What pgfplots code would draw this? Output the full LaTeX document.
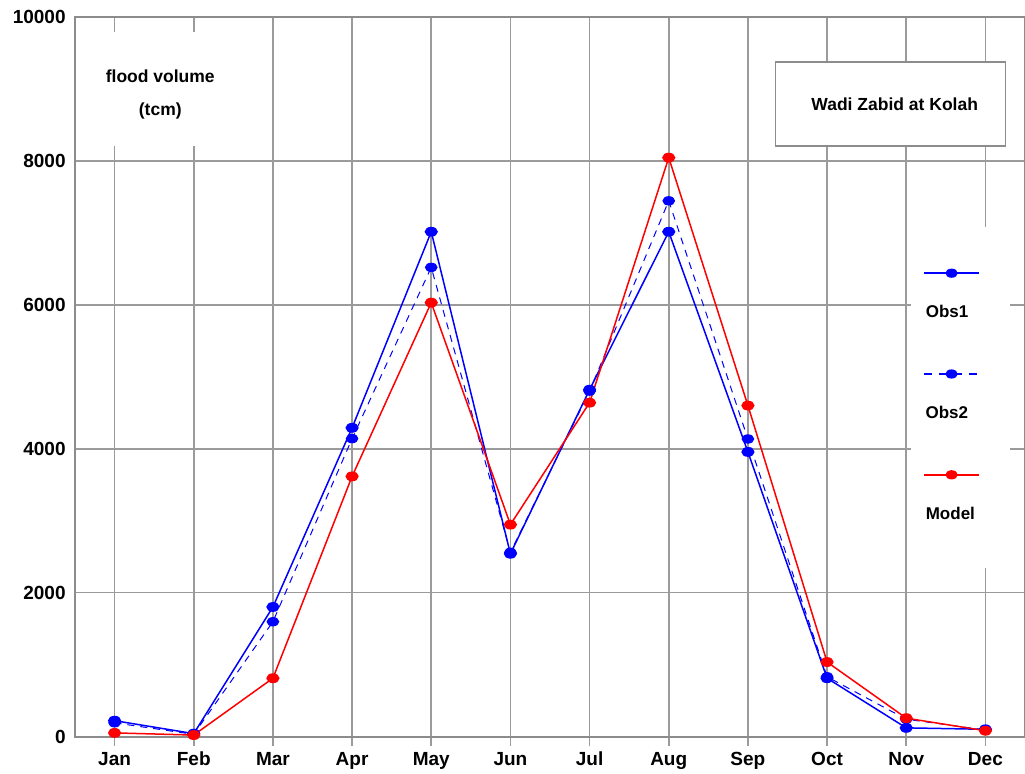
\documentclass[border=0pt]{standalone}
\usepackage{pgfplots}
\pgfplotsset{compat=1.18}
\usepackage{fontspec}
\setmainfont{Liberation Sans}
\definecolor{gridgray}{RGB}{155,155,155}
\definecolor{axgray}{RGB}{140,140,140}
\pgfplotsset{
  leg/.style n args={3}{legend image code/.code={
    \path[draw=none,fill=none] (0pt,-25pt) rectangle (27.5pt,25.4pt);
    \path[draw=#3,#2] (0pt,0.25pt) -- (27.5pt,0.25pt);
    \path[fill=#3,draw=none] (13.75pt,0.25pt) ellipse [x radius=3.1pt, y radius=2.3pt];
    \node[draw=none,fill=none,anchor=base west,inner sep=0pt,text=black,font=\bfseries\fontsize{8.5}{10}\selectfont] at (0.5pt,-22pt) {#1};
  }}
}
\begin{document}
\begin{tikzpicture}
\begin{axis}[
  scale only axis, width=475pt, height=359.75pt,
  xmin=-0.5, xmax=11.5, ymin=0, ymax=10000,
  xtick={0,...,11},
  xticklabels={Jan,Feb,Mar,Apr,May,Jun,Jul,Aug,Sep,Oct,Nov,Dec},
  ytick={0,2000,4000,6000,8000,10000},
  grid=major, major grid style={gridgray,line width=0.85pt},
  axis line style={axgray,line width=1pt},
  tick pos=left,
  tick align=outside, major tick length=4.5pt,
  xtick style={gridgray,line width=0.85pt},
  ytick style={draw=none},
  ticklabel style={font=\bfseries\fontsize{9.5}{11}\selectfont},
  yticklabel style={inner sep=0pt},
  xticklabel style={inner sep=0pt, text height=7pt, yshift=-2.8pt},
  /pgf/number format/assume math mode=true,
  /pgf/number format/1000 sep={},
  scaled y ticks=false,
  clip=false,
  mark size=2.9pt,
  legend style={at={(0.8923,0.7144)}, anchor=north west, draw=none, fill=none,
    inner sep=0pt, row sep=0pt, nodes={inner sep=0pt}},
]
\fill[white] (axis cs:-0.304,8207) rectangle (axis cs:1.47,9791);
\node[font=\bfseries\fontsize{8.75}{16.5}\selectfont, align=center] at (axis cs:0.577,8923) {flood volume\\(tcm)};
\draw[axgray, line width=0.6pt, fill=white] (axis cs:8.350,8207) rectangle (axis cs:11.252,9374);
\node[font=\bfseries\fontsize{8.75}{11}\selectfont] at (axis cs:9.854,8790) {Wadi Zabid at Kolah};
\fill[white] (axis cs:10.061,2342) rectangle (axis cs:11.315,7081);

\addplot[blue, line width=0.75pt, mark=*, mark options={solid, yscale=0.72},
  leg={Obs1}{line width=1pt}{blue}]
  coordinates {(0,220) (1,40) (2,1800) (3,4290) (4,7015) (5,2540) (6,4820) (7,7015) (8,3955) (9,810) (10,120) (11,100)};
\addlegendentry{\mbox{}}
\addplot[blue, line width=0.5pt, dash pattern=on 3.5pt off 3pt, mark=*, mark options={solid, yscale=0.72},
  leg={Obs2}{line width=0.6pt, dash pattern=on 4pt off 3.5pt}{blue}]
  coordinates {(0,190) (1,30) (2,1595) (3,4140) (4,6520) (5,2560) (6,4800) (7,7445) (8,4135) (9,830) (10,240) (11,90)};
\addlegendentry{\mbox{}}
\addplot[red, line width=0.75pt, mark=*, mark options={solid, yscale=0.72},
  leg={Model}{line width=1pt}{red}]
  coordinates {(0,50) (1,20) (2,810) (3,3615) (4,6030) (5,2945) (6,4640) (7,8045) (8,4600) (9,1035) (10,255) (11,80)};
\addlegendentry{\mbox{}}
\end{axis}
\pgfresetboundingbox
\path[use as bounding box] (current axis.south west) ++(-37.5pt,-18.25pt) rectangle ++(512.5pt,386.5pt);
\end{tikzpicture}
\end{document}
